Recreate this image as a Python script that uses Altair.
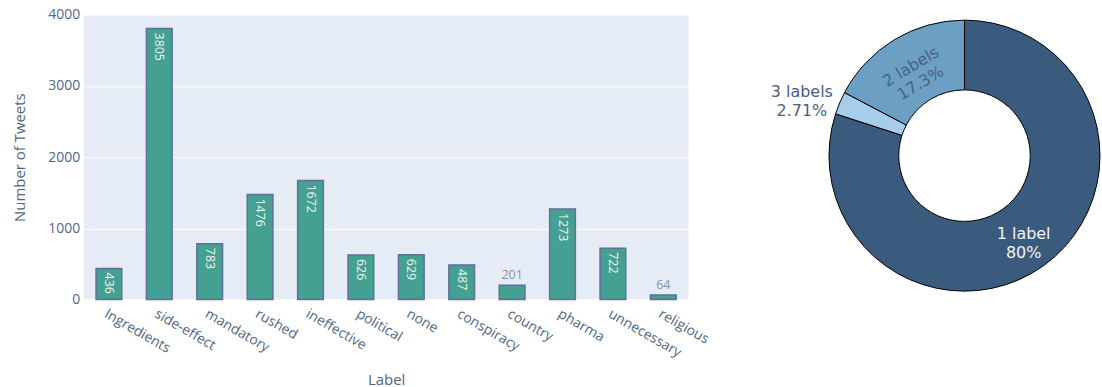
import math
import altair as alt
import pandas as pd

# ---- data ----
labels = ["Ingredients", "side-effect", "mandatory", "rushed", "ineffective", "political",
          "none", "conspiracy", "country", "pharma", "unnecessary", "religious"]
counts = [436, 3805, 783, 1476, 1672, 626, 629, 487, 201, 1273, 722, 64]

pie_labels = ["1 label", "3 labels", "2 labels"]   # clockwise drawing order from 12 o'clock
pie_values = [80.0, 2.71, 17.3]
pie_text = ["80%", "2.71%", "17.3%"]
pie_colors = ["#3a5a7e", "#a6cde9", "#6b9fc3"]

bars_df = pd.DataFrame({"Label": labels, "Count": counts})
pie_df = pd.DataFrame({"name": pie_labels, "value": pie_values, "pct": pie_text})

FONT = "Open Sans"
AX = "#506784"

# ---- bar chart ----
xenc = alt.X("Label:N", sort=labels,
             scale=alt.Scale(paddingInner=0.49, paddingOuter=0.245),
             axis=alt.Axis(title="Label", labelAngle=30, labelAlign="left", labelBaseline="top",
                           labelFontSize=14, titleFontSize=15, labelColor=AX, titleColor=AX,
                           labelFont=FONT, titleFont=FONT, titleFontWeight="normal",
                           ticks=False, domain=False,
                           grid=False, labelPadding=7, titlePadding=13))
yenc = alt.Y("Count:Q", scale=alt.Scale(domain=[0, 4000]),
             axis=alt.Axis(title="Number of Tweets", values=list(range(0, 4001, 500)), format="d",
                           labelFontSize=14, titleFontSize=15, labelColor=AX, titleColor=AX,
                           labelFont=FONT, titleFont=FONT, titleFontWeight="normal",
                           ticks=False, domain=False,
                           gridColor="white", gridWidth=1, labelPadding=4, titlePadding=20))

base = alt.Chart(bars_df)
bars = base.mark_bar(color="#3c9c8b", opacity=0.95, stroke="#586a99", strokeWidth=1.5).encode(
    x=xenc, y=yenc)
inside = base.transform_filter("datum.Count >= 300").mark_text(
    angle=90, align="left", baseline="middle", dx=4, fontSize=12.5, font=FONT, color="#eef5f3"
).encode(x=alt.X("Label:N", sort=labels), y="Count:Q", text="Count:Q")
outside = base.transform_filter("datum.Count < 300").mark_text(
    baseline="bottom", dy=-3, fontSize=12.5, font=FONT, color="#8892a6"
).encode(x=alt.X("Label:N", sort=labels), y="Count:Q", text="Count:Q")

bar_chart = alt.layer(bars, inside, outside).properties(
    width=607, height=286, view=alt.ViewBackground(fill="#e5ecf6", stroke=None))

# ---- donut ----
pie_base = alt.Chart(pie_df).transform_window(
    idx="row_number()"
).transform_joinaggregate(
    total="sum(value)"
).transform_window(
    cum="sum(value)", sort=[alt.SortField("idx")], frame=[None, 0]
).transform_calculate(
    t0="(datum.cum - datum.value) / datum.total",
    t1="datum.cum / datum.total",
    mid="(datum.cum - datum.value / 2) / datum.total",
    lines="[datum.name, datum.pct]",
)
tscale = alt.Scale(domain=[0, 1], range=[0, 2 * math.pi])

arcs = pie_base.mark_arc(innerRadius=66, outerRadius=136, stroke="black", strokeWidth=1).encode(
    theta=alt.Theta("t0:Q", scale=tscale, stack=None),
    theta2="t1:Q",
    color=alt.Color("name:N", scale=alt.Scale(domain=pie_labels, range=pie_colors), legend=None),
)
txt1 = pie_base.transform_filter("datum.name == '1 label'").mark_text(
    radius=101, dy=-3, fontSize=16, font="DejaVu Sans", color="#f2f4f7", lineHeight=19,
    baseline="middle"
).encode(theta=alt.Theta("mid:Q", scale=tscale, stack=None), text="lines:N")
txt2 = pie_base.transform_filter("datum.name == '2 labels'").mark_text(
    radius=101, dy=-3, fontSize=16, font="DejaVu Sans", color="#4a6282", lineHeight=19,
    baseline="middle", angle=329
).encode(theta=alt.Theta("mid:Q", scale=tscale, stack=None), text="lines:N")
txt3 = pie_base.transform_filter("datum.name == '3 labels'").mark_text(
    radius=163, dx=-13, dy=-1, fontSize=16, font="DejaVu Sans", color="#4a5e80", lineHeight=20,
    baseline="middle", align="center"
).encode(theta=alt.Theta("mid:Q", scale=tscale, stack=None), text="lines:N")

pie_chart = alt.layer(arcs, txt1, txt2, txt3).properties(
    width=270, height=283, view=alt.ViewBackground(fill=None, stroke=None))

chart = alt.hconcat(bar_chart, pie_chart, spacing=142, bounds="flush").properties(
    padding={"left": 12, "top": 7, "right": 0, "bottom": 0})

chart.save("out.html", embed_options={"renderer": "svg", "actions": False})
